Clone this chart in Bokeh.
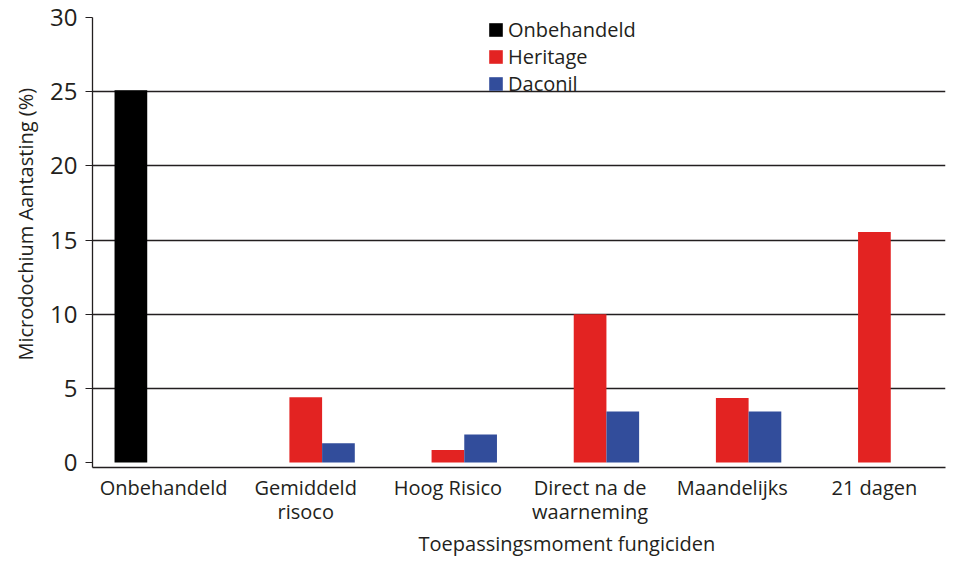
import math
from bokeh.plotting import figure
from bokeh.models import Range1d, FixedTicker, Legend, LegendItem, ColumnDataSource, Title
from bokeh.transform import dodge
from bokeh.embed import file_html
from bokeh.resources import INLINE

categories = ["Onbehandeld", "Gemiddeld\nrisoco", "Hoog Risico", "Direct na de\nwaarneming", "Maandelijks", "21 dagen"]
series_names = ["Onbehandeld", "Heritage", "Daconil"]
onbehandeld = [25.1, math.nan, math.nan, math.nan, math.nan, math.nan]
heritage = [math.nan, 4.4, 0.85, 10.0, 4.35, 15.55]
daconil = [math.nan, 1.3, 1.9, 3.45, 3.45, math.nan]
y_ticks = [0, 5, 10, 15, 20, 25, 30]
x_title = "Toepassingsmoment fungiciden"
y_title = "Microdochium Aantasting (%)"

colors = ["#000000", "#e32322", "#324d9b"]
TXT = "#231f20"
FONT = "Open Sans"

src = ColumnDataSource(dict(cat=categories, onb=onbehandeld, her=heritage, dac=daconil))

p = figure(width=947, height=556, x_range=categories, y_range=Range1d(-0.33, 30),
           output_backend="svg", toolbar_location=None,
           min_border_left=92, min_border_right=2, min_border_top=17, min_border_bottom=73)
p.outline_line_color = None

w = 0.23
r1 = p.vbar(x=dodge("cat", -w, range=p.x_range), top="onb", width=w, source=src, color=colors[0], line_color=None)
r2 = p.vbar(x=dodge("cat", 0, range=p.x_range), top="her", width=w, source=src, color=colors[1], line_color=None)
r3 = p.vbar(x=dodge("cat", w, range=p.x_range), top="dac", width=w, source=src, color=colors[2], line_color=None)

p.xgrid.grid_line_color = None
p.ygrid.ticker = FixedTicker(ticks=y_ticks[1:])
p.ygrid.grid_line_color = TXT
p.ygrid.grid_line_width = 1.3
p.ygrid.level = "underlay"

p.yaxis.ticker = FixedTicker(ticks=y_ticks)
p.yaxis.minor_tick_line_color = None
p.yaxis.major_tick_in = 0
p.yaxis.major_tick_out = 7
p.yaxis.major_tick_line_color = TXT
p.yaxis.axis_line_color = TXT
p.yaxis.axis_line_width = 1.3
p.yaxis.major_label_text_font = FONT
p.yaxis.major_label_text_font_size = "24px"
p.yaxis.major_label_text_color = TXT
p.yaxis.major_label_standoff = 8

p.xaxis.major_tick_line_color = None
p.xaxis.minor_tick_line_color = None
p.xaxis.axis_line_color = TXT
p.xaxis.axis_line_width = 1.3
p.xaxis.major_label_text_font = FONT
p.xaxis.major_label_text_font_size = "20px"
p.xaxis.major_label_text_line_height = 0.9
p.xaxis.major_label_text_color = TXT
p.xaxis.major_label_standoff = 0

xt = Title(text=x_title, align="left", offset=326, standoff=0,
           text_font=FONT, text_font_size="20px", text_font_style="normal",
           text_color=TXT, text_line_height=0.8)
yt = Title(text=y_title, align="left", offset=107, standoff=18,
           text_font=FONT, text_font_size="20px", text_font_style="normal",
           text_color=TXT, text_line_height=0.8)
p.add_layout(xt, "below")
p.add_layout(yt, "left")

legend = Legend(items=[LegendItem(label=series_names[0], renderers=[r1]),
                       LegendItem(label=series_names[1], renderers=[r2]),
                       LegendItem(label=series_names[2], renderers=[r3])],
                location=(395, 370))
legend.background_fill_alpha = 0
legend.border_line_color = None
legend.padding = 0
legend.margin = 0
legend.spacing = 0
legend.glyph_width = 17
legend.glyph_height = 17
legend.label_standoff = 4
legend.label_text_font = FONT
legend.label_text_font_size = "20px"
legend.label_text_color = TXT
legend.label_height = 20
p.add_layout(legend)

open("out.html", "w").write(file_html(p, INLINE))
